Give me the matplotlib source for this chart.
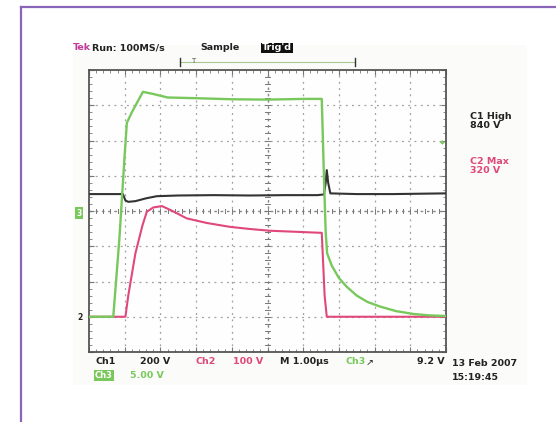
import matplotlib
matplotlib.use("Agg")
import matplotlib.pyplot as plt
from matplotlib.patches import Rectangle
from matplotlib.lines import Line2D

# Trace data, in screen divisions (x: 0-10, y: 0-8)
ch3_x = [0.0, 0.68, 0.85, 1.0, 1.06, 1.2, 1.51, 1.8, 2.2, 3.0, 4.0, 5.0, 6.0, 6.52, 6.58, 6.63, 6.67,
         6.8, 7.0, 7.22, 7.5, 7.8, 8.15, 8.6, 9.08, 9.5, 10.0]
ch3_y = [1.0, 1.0, 3.2, 5.6, 6.5, 6.8, 7.38, 7.32, 7.22, 7.2, 7.17, 7.16, 7.18, 7.18, 5.0, 3.4, 2.8,
         2.45, 2.1, 1.85, 1.6, 1.42, 1.29, 1.16, 1.08, 1.04, 1.02]
ch1_x = [0.0, 0.95, 1.02, 1.1, 1.3, 1.6, 1.9, 2.5, 3.5, 4.5, 5.5, 6.4, 6.58, 6.63, 6.66, 6.7, 6.76, 7.5, 8.5, 10.0]
ch1_y = [4.48, 4.48, 4.3, 4.26, 4.28, 4.36, 4.42, 4.44, 4.45, 4.44, 4.45, 4.45, 4.47, 4.8, 5.16, 4.8, 4.5, 4.48, 4.48, 4.5]
ch2_x = [0.0, 1.02, 1.1, 1.3, 1.5, 1.62, 1.8, 2.04, 2.3, 2.74, 3.3, 3.95, 4.5, 5.07, 5.8, 6.52, 6.6, 6.66, 10.0]
ch2_y = [1.0, 1.0, 1.6, 2.8, 3.6, 3.98, 4.1, 4.14, 4.02, 3.79, 3.66, 3.55, 3.49, 3.44, 3.41, 3.38, 1.6, 1.0, 1.0]

GREEN = "#78c85c"
PINK = "#e0487a"
TRACE_BLACK = "#333333"
W, H = 556, 422

fig = plt.figure(figsize=(W / 100, H / 100), dpi=100)


def fx(px):
    return px / W


def fy(py):
    return 1 - py / H


# purple page frame + screenshot background
fig.add_artist(Line2D([fx(21), 1], [fy(6.5), fy(6.5)], color="#8a64b8", lw=1.6))
fig.add_artist(Line2D([fx(21), fx(21)], [fy(6.5), 0], color="#8a64b8", lw=1.6))
fig.add_artist(Rectangle((fx(73), fy(385)), fx(527) - fx(73), fy(45) - fy(385),
                         facecolor="#fbfbf9", edgecolor="none", zorder=0))

ax = fig.add_axes([fx(89), fy(352), fx(446) - fx(89), fy(70) - fy(352)])
ax.set_facecolor("#fefefe")
ax.set_xlim(0, 10)
ax.set_ylim(0, 8)

# graticule
for i in range(1, 10):
    ax.axvline(i, color="#a0a0a0", lw=0.9, ls=(0, (1.5, 3.5)), zorder=1)
for j in range(1, 8):
    ax.axhline(j, color="#a0a0a0", lw=0.9, ls=(0, (1.5, 3.5)), zorder=1)
ax.axhline(4, color="#888888", lw=0.9, ls=(0, (2, 3)), zorder=1)
ax.axvline(5, color="#888888", lw=0.9, ls=(0, (2, 3)), zorder=1)
for k in range(1, 50):
    t = k * 0.2
    ax.plot([t, t], [3.94, 4.06], color="#777777", lw=0.7, zorder=1)
for k in range(1, 40):
    t = k * 0.2
    ax.plot([4.94, 5.06], [t, t], color="#777777", lw=0.7, zorder=1)
ax.set_xticks(range(0, 11))
ax.set_yticks(range(0, 9))
ax.set_xticks([k * 0.2 for k in range(51)], minor=True)
ax.set_yticks([k * 0.2 for k in range(41)], minor=True)
ax.tick_params(which="both", direction="in", top=True, right=True,
               labelbottom=False, labelleft=False, color="#777777")
ax.tick_params(which="major", length=3.5)
ax.tick_params(which="minor", length=2)
for s in ax.spines.values():
    s.set_color("#555555")
    s.set_linewidth(1.3)

ax.plot(ch1_x, ch1_y, color=TRACE_BLACK, lw=1.5, zorder=3)
ax.plot(ch2_x, ch2_y, color=PINK, lw=1.5, zorder=3)
ax.plot(ch3_x, ch3_y, color=GREEN, lw=1.7, zorder=4)

# header
fs = 6.8
fig.text(fx(73), fy(48), "Tek", color="#c03a9a", fontsize=fs, fontweight="bold", va="center")
fig.text(fx(92), fy(48), "Run: 100MS/s", color="#222222", fontsize=fs, fontweight="bold", va="center")
fig.text(fx(200), fy(48), "Sample", color="#222222", fontsize=fs, fontweight="bold", va="center")
fig.text(fx(262), fy(48), "Trig'd", color="white", fontsize=fs, fontweight="bold", va="center",
         bbox=dict(boxstyle="square,pad=0.1", fc="#111111", ec="none"))
fig.add_artist(Line2D([fx(180), fx(355)], [fy(62), fy(62)], color="#a8c890", lw=0.8))
fig.add_artist(Line2D([fx(180), fx(180)], [fy(58), fy(66)], color="#333333", lw=1.0))
fig.add_artist(Line2D([fx(355), fx(355)], [fy(58), fy(66)], color="#333333", lw=1.0))
fig.text(fx(193), fy(61), "T", color="#555555", fontsize=5, va="center", ha="center")

# right readouts
fig.text(fx(470), fy(121), "C1 High\n840 V", color="#222222", fontsize=fs, fontweight="bold",
         va="center", ha="left", linespacing=0.95)
fig.text(fx(470), fy(166), "C2 Max\n320 V", color=PINK, fontsize=fs, fontweight="bold",
         va="center", ha="left", linespacing=0.95)
fig.text(fx(442), fy(143), "\u25c6", color=GREEN, fontsize=4.5, va="center", ha="center")

# left channel markers
fig.text(fx(79), fy(213), "3", color="white", fontsize=5.5, fontweight="bold", va="center", ha="center",
         bbox=dict(boxstyle="square,pad=0.15", fc=GREEN, ec="none"))
fig.text(fx(80), fy(318), "2", color="#222222", fontsize=5.5, fontweight="bold", va="center", ha="center")

# bottom readouts
by = 362
fig.text(fx(95), fy(by), "Ch1", color="#222222", fontsize=fs, fontweight="bold", va="center")
fig.text(fx(140), fy(by), "200 V", color="#222222", fontsize=fs, fontweight="bold", va="center")
fig.text(fx(195), fy(by), "Ch2", color=PINK, fontsize=fs, fontweight="bold", va="center")
fig.text(fx(233), fy(by), "100 V", color=PINK, fontsize=fs, fontweight="bold", va="center")
fig.text(fx(280), fy(by), "M 1.00\u00b5s", color="#222222", fontsize=fs, fontweight="bold", va="center")
fig.text(fx(345), fy(by), "Ch3", color=GREEN, fontsize=fs, fontweight="bold", va="center")
fig.text(fx(366), fy(by), "\u2197", color="#222222", fontsize=fs, va="center")
fig.text(fx(445), fy(by), "9.2 V", color="#222222", fontsize=fs, fontweight="bold", va="center", ha="right")
fig.text(fx(95), fy(375), "Ch3", color="white", fontsize=fs - 0.8, fontweight="bold", va="center",
         bbox=dict(boxstyle="square,pad=0.12", fc=GREEN, ec="none"))
fig.text(fx(130), fy(375), "5.00 V", color=GREEN, fontsize=fs, fontweight="bold", va="center")
fig.text(fx(452), fy(364), "13 Feb 2007", color="#222222", fontsize=fs, fontweight="bold", va="center")
fig.text(fx(452), fy(378), "15:19:45", color="#222222", fontsize=fs, fontweight="bold", va="center")

fig.savefig("out.png", dpi=100)
